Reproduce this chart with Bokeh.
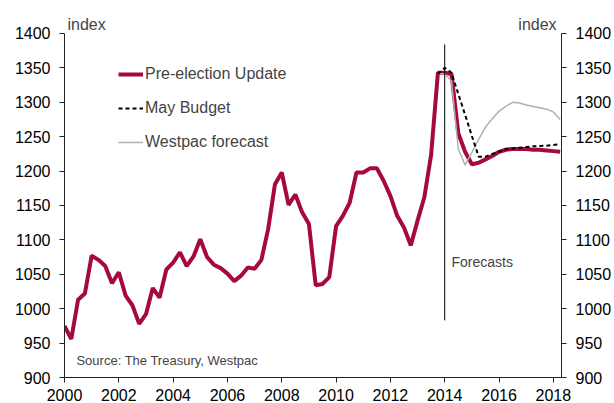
from bokeh.plotting import figure
from bokeh.models import (LinearAxis, FixedTicker, Label, Legend, LegendItem, Range1d)
from bokeh.embed import file_html
from bokeh.resources import INLINE

FONT = "Liberation Sans"

# Quarterly data starting 2000 Q1 (decimal year positions)
start_year = 2000.0
pre_election = [975, 956, 1013, 1022, 1077, 1071, 1062, 1037, 1053, 1019, 1005, 978,
                992, 1030, 1016, 1057, 1067, 1082, 1062, 1076, 1101, 1075, 1064, 1059,
                1051, 1040, 1048, 1060, 1058, 1071, 1116, 1181, 1198, 1151, 1166, 1140,
                1123, 1034, 1036, 1046, 1120, 1135, 1154, 1198, 1198, 1204, 1204, 1186,
                1164, 1135, 1118, 1092, 1128, 1162, 1224, 1343, 1343, 1341,
                1255, 1228, 1210, 1212, 1217, 1222, 1228, 1231, 1232, 1232, 1232, 1231,
                1231, 1230, 1229, 1228]
forecast_start_year = 2013.75
may_budget = [1341, 1350, 1343, 1312, 1282, 1251, 1221, 1221, 1225, 1228, 1232, 1233,
              1234, 1235, 1236, 1236.5, 1237, 1238, 1239]
westpac = [1342, 1341, 1331, 1232, 1209, 1227, 1246, 1264, 1276, 1287, 1294, 1300,
           1299, 1296, 1294, 1292, 1290, 1286, 1275]

x_ticks = list(range(2000, 2019, 2))
y_ticks = list(range(900, 1401, 50))
y_axis_bounds = (900, 1400)
forecast_line_year = 2014
forecast_line_span = (983, 1384)

x_pre = [start_year + 0.25 * i for i in range(len(pre_election))]
x_fc = [forecast_start_year + 0.25 * i for i in range(len(may_budget))]

RED = "#a6093d"

p = figure(width=614, height=403, output_backend="svg", toolbar_location=None,
           x_range=Range1d(2000, 2018.3), y_range=Range1d(900, 1433.4),
           min_border_left=64, min_border_right=52, min_border_top=10, min_border_bottom=26)
p.outline_line_color = None
p.xgrid.visible = False
p.ygrid.visible = False
p.background_fill_color = "white"
p.border_fill_color = "white"

r_red = p.line(x_pre, pre_election, line_color=RED, line_width=4)
r_gray = p.line(x_fc, westpac, line_color="#b0b0b0", line_width=1.5)
r_dash = p.line(x_fc, may_budget, line_color="black", line_width=2, line_dash="4 3")

# vertical forecast marker
p.segment(x0=[forecast_line_year], y0=[forecast_line_span[0]],
          x1=[forecast_line_year], y1=[forecast_line_span[1]], line_color="black", line_width=1)

def style_axis(ax):
    ax.axis_line_color = "#222222"
    ax.major_tick_line_color = "#222222"
    ax.major_tick_out = 5
    ax.major_tick_in = 0
    ax.minor_tick_line_color = None
    ax.major_label_text_font = FONT
    ax.major_label_text_font_size = "16px"
    ax.major_label_text_color = "black"

p.xaxis.ticker = FixedTicker(ticks=x_ticks)
p.yaxis.ticker = FixedTicker(ticks=y_ticks)
style_axis(p.xaxis[0])
style_axis(p.yaxis[0])
p.yaxis.bounds = y_axis_bounds
p.xaxis.major_label_standoff = 6
p.yaxis.major_label_standoff = 9

ry = LinearAxis(ticker=FixedTicker(ticks=y_ticks), bounds=y_axis_bounds)
style_axis(ry)
ry.major_label_standoff = 9
p.add_layout(ry, "right")

legend = Legend(items=[LegendItem(label="Pre-election Update", renderers=[r_red]),
                       LegendItem(label="May Budget", renderers=[r_dash]),
                       LegendItem(label="Westpac forecast", renderers=[r_gray])],
                location=(54, 225), padding=0, margin=0, spacing=14,
                glyph_width=25, glyph_height=20, label_height=20, label_standoff=2,
                label_text_font=FONT, label_text_font_size="16px",
                border_line_color=None, background_fill_alpha=0)
p.add_layout(legend, "center")

p.add_layout(Label(x=2000.11, y=1413, text="index", text_font=FONT, text_font_size="16px",
                   text_baseline="alphabetic", text_align="left"))
p.add_layout(Label(x=2018.12, y=1413, text="index", text_font=FONT, text_font_size="16px",
                   text_baseline="alphabetic", text_align="right"))
p.add_layout(Label(x=2014.25, y=1068, text="Forecasts", text_font=FONT, text_font_size="14px",
                   text_baseline="middle", text_align="left"))
p.add_layout(Label(x=2000.44, y=924, text="Source: The Treasury, Westpac", text_font=FONT,
                   text_font_size="13px", text_baseline="middle", text_align="left"))

open("out.html", "w").write(file_html(p, INLINE))
